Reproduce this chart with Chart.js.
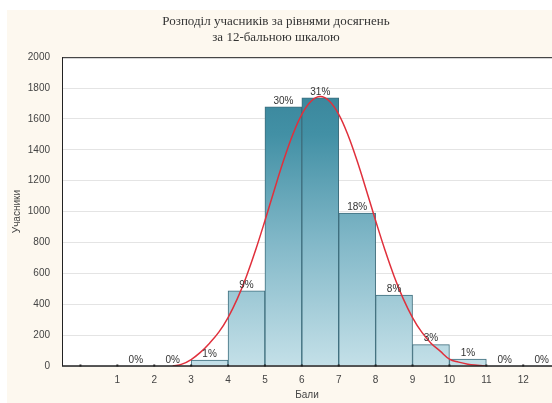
<!DOCTYPE html>
<html>
<head>
<meta charset="utf-8">
<script src="https://cdn.jsdelivr.net/npm/chart.js@4"></script>
<style>
  html, body { margin: 0; padding: 0; background: #ffffff; }
  #wrap { width: 552px; height: 403px; position: relative; }
</style>
</head>
<body>
<div id="wrap"><canvas id="chart" width="552" height="403"></canvas></div>
<script>
// Score bins (lower edge of each bin) and number of pupils in each
const binStarts = [1, 2, 3, 4, 5, 6, 7, 8, 9, 10, 11, 12];
const pupilCounts = [0, 0, 39, 487, 1678, 1737, 990, 460, 138, 45, 0, 0];
const percentLabels = ['0%', '0%', '1%', '9%', '30%', '31%', '18%', '8%', '3%', '1%', '0%', '0%'];

// Fitted normal curve
const curveX = [2.5, 2.75, 3, 3.25, 3.5, 3.75, 4, 4.25, 4.5, 4.75, 5, 5.25, 5.5, 5.75, 6, 6.25, 6.5,
  6.75, 7, 7.25, 7.5, 7.75, 8, 8.25, 8.5, 8.75, 9, 9.25, 9.5, 9.75, 10, 10.25, 10.5, 10.75, 11];
const curveY = [0, 12, 42, 88, 148, 219, 314, 435, 582, 753, 941, 1137, 1327, 1496, 1630, 1715, 1745,
  1715, 1630, 1496, 1327, 1137, 941, 753, 582, 435, 314, 219, 148, 96, 45, 25, 12, 5, 0];

const xTicks = [1, 2, 3, 4, 5, 6, 7, 8, 9, 10, 11, 12];
const titleLines = ['Розподіл учасників за рівнями досягнень', 'за 12-бальною шкалою'];

// cream panel behind everything
const panelPlugin = {
  id: 'panel',
  beforeDraw(chart) {
    const c = chart.ctx;
    c.save();
    c.fillStyle = '#fdf8ef';
    c.fillRect(7, 10, chart.width - 7, chart.height - 10);
    const a = chart.chartArea;
    c.fillStyle = '#ffffff';
    c.fillRect(a.left, a.top, a.right - a.left, a.bottom - a.top);
    c.restore();
  }
};

// percentage labels over the bars
const percentPlugin = {
  id: 'percent',
  afterDatasetsDraw(chart) {
    const meta = chart.getDatasetMeta(0);
    const c = chart.ctx;
    c.save();
    c.font = '10px "Liberation Sans", Arial, sans-serif';
    c.fillStyle = '#333333';
    c.textAlign = 'center';
    c.textBaseline = 'bottom';
    meta.data.forEach((bar, i) => {
      c.fillText(percentLabels[i], bar.x, bar.y - 1);
    });
    c.restore();
  }
};

// axis frame: left, bottom and top lines, dots at the x ticks
const framePlugin = {
  id: 'frame',
  afterDraw(chart) {
    const a = chart.chartArea;
    const c = chart.ctx;
    const xs = chart.scales.x;
    c.save();
    c.strokeStyle = '#222222';
    c.lineWidth = 1;
    c.beginPath();
    c.moveTo(a.left + 0.5, a.top);
    c.lineTo(a.left + 0.5, a.bottom);
    c.moveTo(a.left, a.top + 0.5);
    c.lineTo(a.right, a.top + 0.5);
    c.stroke();
    c.lineWidth = 1.5;
    c.beginPath();
    c.moveTo(a.left, a.bottom);
    c.lineTo(a.right, a.bottom);
    c.stroke();
    c.fillStyle = '#222222';
    [0].concat(xTicks).forEach(t => {
      const px = xs.getPixelForValue(t);
      if (px > a.left + 2) c.fillRect(px - 1, a.bottom - 1.5, 2, 2);
    });
    c.restore();
  }
};

function barGradient(context) {
  const chart = context.chart;
  const a = chart.chartArea;
  if (!a) return '#8fc0cf';
  const g = chart.ctx.createLinearGradient(0, a.top, 0, a.bottom);
  g.addColorStop(0, '#347f95');
  g.addColorStop(0.25, '#4290a5');
  g.addColorStop(0.6, '#82b8c8');
  g.addColorStop(1, '#c4e0e8');
  return g;
}

const ctx = document.getElementById('chart');
new Chart(ctx, {
  type: 'bar',
  data: {
    datasets: [
      {
        type: 'bar',
        label: 'Учасники',
        data: binStarts.map((b, i) => ({ x: b + 0.5, y: pupilCounts[i] })),
        backgroundColor: barGradient,
        borderColor: '#3d6d7c',
        borderWidth: 1,
        barPercentage: 1,
        categoryPercentage: 1,
        order: 2
      },
      {
        type: 'line',
        label: 'Normal',
        data: curveX.map((x, i) => ({ x: x, y: curveY[i] })),
        borderColor: '#e0303c',
        borderWidth: 1.5,
        pointRadius: 0,
        tension: 0.4,
        fill: false,
        order: 1
      }
    ]
  },
  options: {
    responsive: false,
    animation: false,
    layout: { padding: { top: 8, right: 0, left: 0, bottom: 0 } },
    plugins: {
      legend: { display: false },
      tooltip: { enabled: false },
      title: {
        display: true,
        text: titleLines,
        color: '#333333',
        font: { family: '"Liberation Serif", "Times New Roman", serif', size: 13, weight: 'normal', lineHeight: 1.2 },
        padding: { top: 6, bottom: 12 }
      }
    },
    scales: {
      x: {
        type: 'linear',
        offset: false,
        min: -0.5,
        max: 12.78,
        afterBuildTicks(scale) {
          scale.ticks = xTicks.map(v => ({ value: v }));
        },
        afterFit(scale) { scale.height = 37; },
        grid: { display: false, drawTicks: false },
        border: { display: false },
        ticks: {
          color: '#444444',
          font: { family: '"Liberation Sans", Arial, sans-serif', size: 10 },
          padding: 8,
          maxRotation: 0,
          autoSkip: false
        },
        title: {
          display: true,
          text: 'Бали',
          color: '#444444',
          font: { family: '"Liberation Sans", Arial, sans-serif', size: 10 },
          padding: { top: 0, bottom: 2 }
        }
      },
      y: {
        min: 0,
        max: 2000,
        afterFit(scale) { scale.width = 62; },
        ticks: {
          stepSize: 200,
          color: '#444444',
          font: { family: '"Liberation Sans", Arial, sans-serif', size: 10 },
          padding: 12,
          callback: v => String(v)
        },
        grid: { color: '#e4e4e4', drawTicks: false },
        border: { display: false },
        title: {
          display: true,
          text: 'Учасники',
          color: '#444444',
          font: { family: '"Liberation Sans", Arial, sans-serif', size: 10 },
          padding: { top: 11, bottom: 0 }
        }
      }
    }
  },
  plugins: [panelPlugin, percentPlugin, framePlugin]
});
</script>
</body>
</html>
